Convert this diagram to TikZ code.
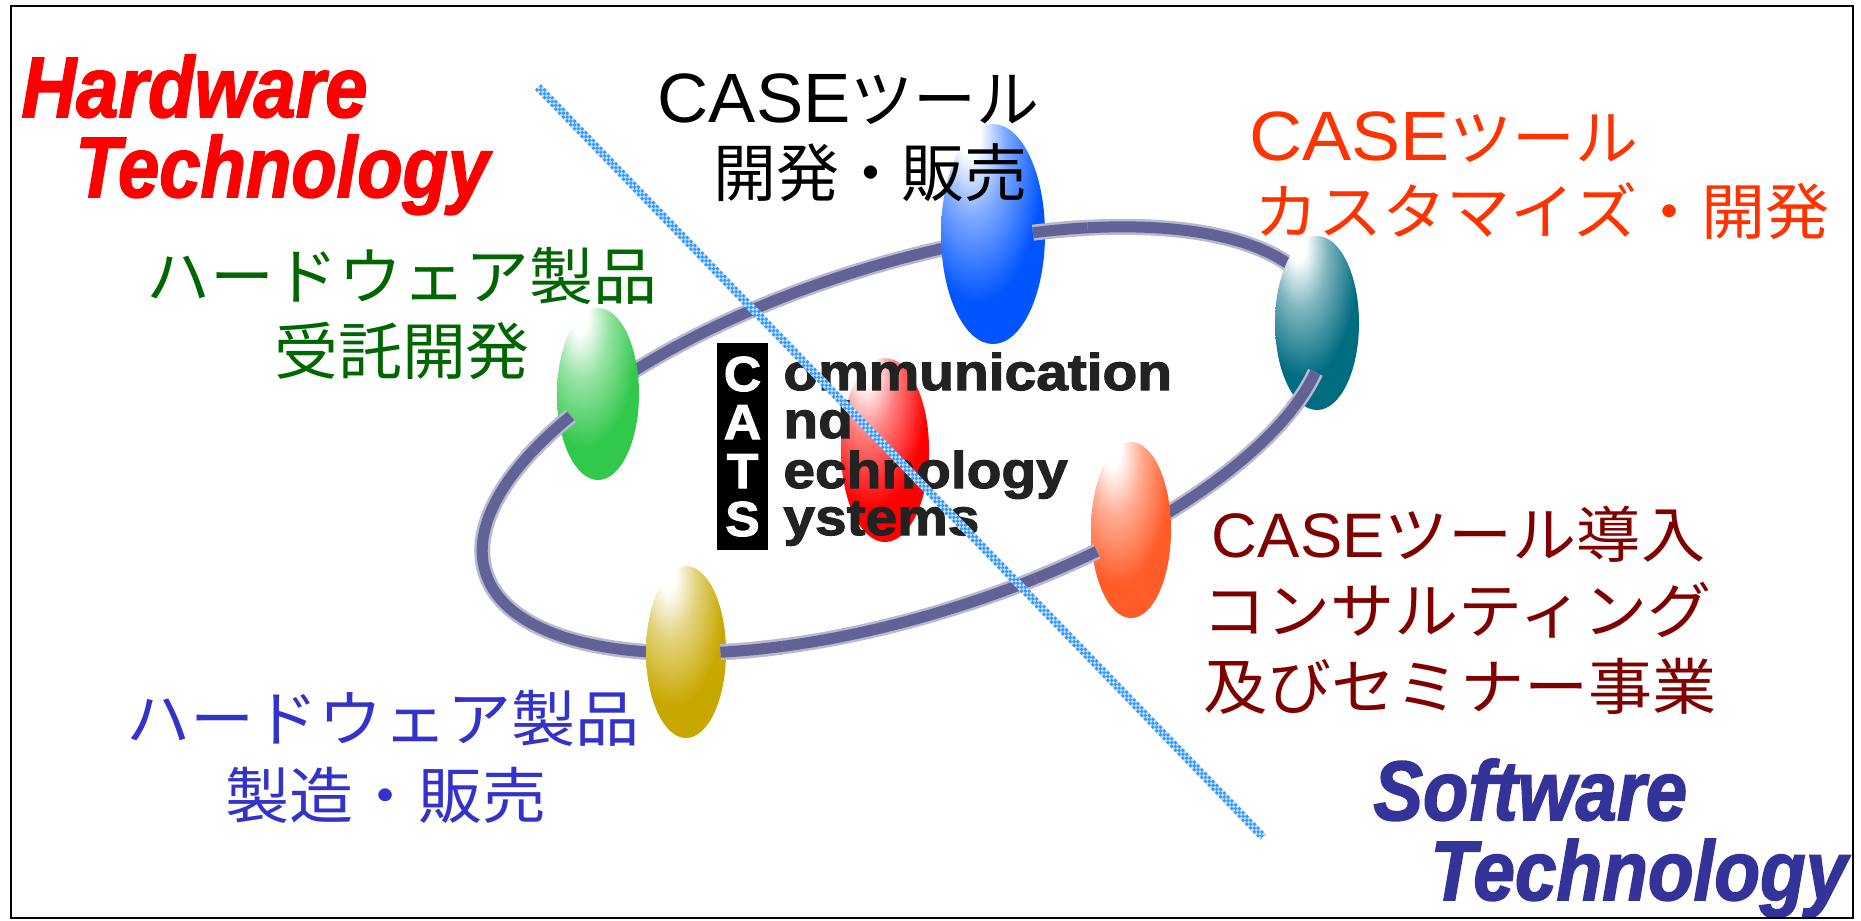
\documentclass[tikz,border=0pt]{standalone}
\usepackage{fontspec}
\usepackage{graphicx}
\newfontfamily\jpfont{Noto Sans CJK JP}
\newfontfamily\latfont{Liberation Sans}
\newfontfamily\heavyfont{Liberation Sans}[BoldFeatures={FakeBold=2}, BoldItalicFeatures={FakeBold=2}]

\definecolor{ringcol}{RGB}{98,98,150}
\definecolor{hwred}{RGB}{255,0,0}
\definecolor{swblue}{RGB}{51,51,153}
\definecolor{catsink}{RGB}{34,34,34}
\definecolor{caporange}{RGB}{255,51,0}
\definecolor{hwgreen}{RGB}{0,102,0}
\definecolor{hwblue}{RGB}{51,51,204}
\definecolor{consred}{RGB}{128,0,0}
\definecolor{beadgreen}{RGB}{50,200,75}
\definecolor{beadblue}{RGB}{0,85,255}
\definecolor{beadteal}{RGB}{0,108,128}
\definecolor{beadred}{RGB}{255,0,0}
\definecolor{beadorange}{RGB}{255,92,40}
\definecolor{beadgold}{RGB}{200,168,0}
\definecolor{divblue}{RGB}{51,153,255}
\definecolor{divlight}{RGB}{200,225,255}
\colorlet{beadcol}{red}

% glossy bead: white highlight up and to the left, fading into the bead colour
\pgfdeclareradialshading[beadcol]{bead}{\pgfpoint{-12bp}{24bp}}{%
  color(0bp)=(white); color(5bp)=(white); color(16bp)=(beadcol!50!white);
  color(32bp)=(beadcol); color(100bp)=(beadcol)}

\newcommand\caseword[2]{\scalebox{#1}[#2]{\latfont CASE}}
\newcommand\bead[5]{\colorlet{beadcol}{#1}%
  \shade[shading=bead] (#2,#3) ellipse [x radius=#4, y radius=#5];}

\tikzset{
  ringline/.style={draw=ringcol, line width=1.1mm,
    preaction={draw=ringcol!45!white, line width=1.6mm}},
  divbase/.style={draw=divlight, line width=0.8mm},
  divdots/.style={draw=divblue, line width=0.27mm, dash pattern=on 0.27mm off 0.27mm},
  jp/.style={anchor=base, font=\jpfont\fontsize{#1}{21pt}\selectfont},
  techword/.style={anchor=base west, font=\heavyfont\bfseries\itshape\fontsize{#1}{29pt}\selectfont},
  catsword/.style={anchor=base west, text=catsink, font=\heavyfont\bfseries\fontsize{14.7pt}{17pt}\selectfont},
  catsinit/.style={anchor=base, text=white, font=\heavyfont\bfseries\fontsize{14pt}{17pt}\selectfont},
}

\begin{document}
\begin{tikzpicture}[x=0.01cm, y=-0.01cm]
\useasboundingbox (0,0) rectangle (1861,920);
\fill[white] (0,0) rectangle (1861,920);

% the orbit ring
\draw[ringline, rotate around={17.6:(904,440)}] (904,440) ellipse [x radius=439, y radius=175];

% beads
\bead{beadred}{885}{450}{44}{92}
\bead{beadgreen}{598}{394}{41}{86}
\bead{beadblue}{993}{234}{52}{110}
\bead{beadteal}{1317}{323}{42}{87}
\bead{beadorange}{1131}{530}{40}{88}
\bead{beadgold}{686}{652}{40}{86}

% ring segments passing in front of the beads
\draw[ringline, line cap=butt] plot[domain=135:144, samples=12, variable=\t]
  ({904+418.5*cos(\t)-52.9*sin(\t)}, {440-132.8*cos(\t)-166.8*sin(\t)});
\draw[ringline, line cap=butt] plot[domain=237:246, samples=12, variable=\t]
  ({904+418.5*cos(\t)-52.9*sin(\t)}, {440-132.8*cos(\t)-166.8*sin(\t)});
\draw[ringline, line cap=butt] plot[domain=290:281, samples=12, variable=\t]
  ({904+418.5*cos(\t)-52.9*sin(\t)}, {440-132.8*cos(\t)-166.8*sin(\t)});
\draw[ringline, line cap=butt] plot[domain=340:330, samples=12, variable=\t]
  ({904+418.5*cos(\t)-52.9*sin(\t)}, {440-132.8*cos(\t)-166.8*sin(\t)});
\draw[ringline, line cap=butt] plot[domain=65:57, samples=12, variable=\t]
  ({904+418.5*cos(\t)-52.9*sin(\t)}, {440-132.8*cos(\t)-166.8*sin(\t)});

% corner headings
\node[techword=24.4pt, text=hwred] (hwTop) at (9,117) {\scalebox{0.885}[1]{Hardware}};
\node[techword=24.4pt, text=hwred] (hwBottom) at (63,197) {\scalebox{0.865}[1]{Technology}};
\node[techword=24pt, text=swblue] (swTop) at (1361,820) {\scalebox{0.88}[1]{Software}};
\node[techword=24pt, text=swblue] (swBottom) at (1418,900) {\scalebox{0.886}[1]{Technology}};

% business areas
\node[jp=17.9pt, text=black] (toolDev1) at (848.5,122) {\caseword{1.125}{1.11}ツール};
\node[jp=17.9pt, text=black] (toolDev2) at (870.5,196) {開発・販売};

\node[jp=17.36pt, text=caporange] (custom1) at (1444,160) {\scalebox{1.03}[1]{\caseword{1.17}{1.144}ツール}};
\node[jp=17.36pt, text=caporange] (custom2) at (1542,234) {\scalebox{1.05}[1]{カスタマイズ・開発}};

\node[jp=17.64pt, text=hwgreen] (contract1) at (402,299) {\scalebox{1.03}[1]{ハードウェア製品}};
\node[jp=17.64pt, text=hwgreen] (contract2) at (402,374) {\scalebox{1.03}[1]{受託開発}};

\node[jp=17.36pt, text=hwblue] (making1) at (383,741) {\scalebox{1.05}[1]{ハードウェア製品}};
\node[jp=17.36pt, text=hwblue] (making2) at (386,818) {\scalebox{1.05}[1]{製造・販売}};

\node[jp=17.36pt, text=consred] (consult1) at (1458.5,557) {\scalebox{1.05}[1]{\caseword{0.99}{1.03}ツール導入}};
\node[jp=17.36pt, text=consred] (consult2) at (1457,633) {\scalebox{1.05}[1]{コンサルティング}};
\node[jp=17.36pt, text=consred] (consult3) at (1460,709) {\scalebox{1.05}[1]{及びセミナー事業}};

% company logo
\node[fill=black, inner sep=0pt, minimum width=0.51cm, minimum height=2.07cm] (catsBox) at (742.5,446.5) {};
\node[catsinit] (catsC) at (742.5,391) {\scalebox{1.05}[1]{C}};
\node[catsinit] (catsA) at (742.5,439) {\scalebox{1.05}[1]{A}};
\node[catsinit] (catsT) at (742.5,488) {\scalebox{1.05}[1]{T}};
\node[catsinit] (catsS) at (742.5,536) {\scalebox{1.05}[1]{S}};
\node[catsword] (catsW1) at (771,390) {\scalebox{1.1}[1]{ommunication}};
\node[catsword] (catsW2) at (771,438) {\scalebox{1.1}[1]{nd}};
\node[catsword] (catsW3) at (771,488) {\scalebox{1.1}[1]{echnology}};
\node[catsword] (catsW4) at (771,535) {\scalebox{1.1}[1]{ystems}};

% chequered divider between hardware and software
\coordinate (divA) at (538,87);
\coordinate (divB) at (1263,837);
\draw[divbase] (divA) -- (divB);
\draw[divdots] ([shift={(1.94,-1.88)}]divA) -- ([shift={(1.94,-1.88)}]divB);
\draw[divdots, dash phase=0.27mm] (divA) -- (divB);
\draw[divdots] ([shift={(-1.94,1.88)}]divA) -- ([shift={(-1.94,1.88)}]divB);

% frame
\draw[line width=0.2mm] (11,6) rectangle (1853,918);
\end{tikzpicture}
\end{document}
